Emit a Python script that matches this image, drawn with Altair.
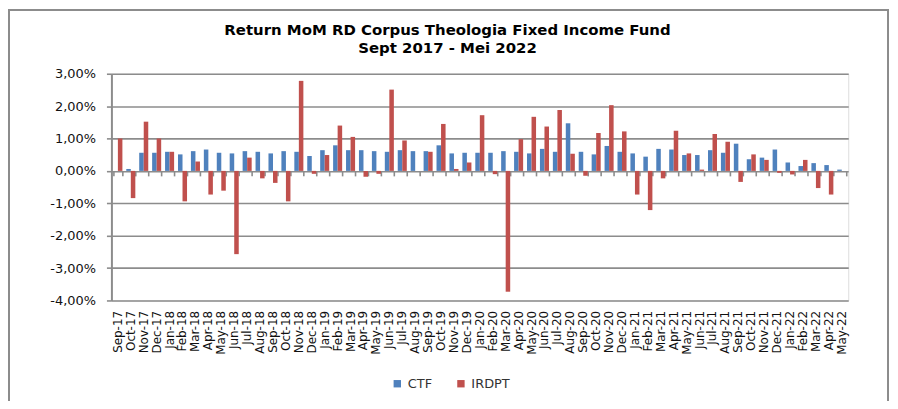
import altair as alt
import pandas as pd

months = [
    "Sep-17", "Oct-17", "Nov-17", "Dec-17",
    "Jan-18", "Feb-18", "Mar-18", "Apr-18", "May-18", "Jun-18", "Jul-18", "Aug-18", "Sep-18", "Oct-18", "Nov-18", "Dec-18",
    "Jan-19", "Feb-19", "Mar-19", "Apr-19", "May-19", "Jun-19", "Jul-19", "Aug-19", "Sep-19", "Oct-19", "Nov-19", "Dec-19",
    "Jan-20", "Feb-20", "Mar-20", "Apr-20", "May-20", "Jun-20", "Jul-20", "Aug-20", "Sep-20", "Oct-20", "Nov-20", "Dec-20",
    "Jan-21", "Feb-21", "Mar-21", "Apr-21", "May-21", "Jun-21", "Jul-21", "Aug-21", "Sep-21", "Oct-21", "Nov-21", "Dec-21",
    "Jan-22", "Feb-22", "Mar-22", "Apr-22", "May-22",
]

ctf = [
    0.00, 0.06, 0.56, 0.56,
    0.59, 0.51, 0.61, 0.66, 0.56, 0.54, 0.61, 0.59, 0.54, 0.61, 0.59, 0.46,
    0.64, 0.79, 0.64, 0.64, 0.61, 0.59, 0.64, 0.61, 0.61, 0.79, 0.54, 0.56,
    0.56, 0.56, 0.61, 0.59, 0.54, 0.68, 0.59, 1.47, 0.59, 0.51, 0.77, 0.59,
    0.54, 0.44, 0.68, 0.66, 0.49, 0.49, 0.64, 0.56, 0.84, 0.36, 0.41, 0.66,
    0.26, 0.15, 0.24, 0.18, 0.04,
]

irdpt = [
    1.00, -0.84, 1.52, 1.00,
    0.59, -0.94, 0.29, -0.73, -0.61, -2.57, 0.41, -0.23, -0.37, -0.94, 2.78, -0.09,
    0.49, 1.40, 1.05, -0.18, -0.09, 2.51, 0.94, 0.00, 0.59, 1.45, 0.06, 0.26,
    1.72, -0.10, -3.73, 0.98, 1.67, 1.37, 1.88, 0.53, -0.15, 1.17, 2.03, 1.22,
    -0.73, -1.21, -0.23, 1.24, 0.54, 0.04, 1.14, 0.90, -0.34, 0.51, 0.34, -0.06,
    -0.11, 0.34, -0.53, -0.73, 0.00,
]

series_names = ["CTF", "IRDPT"]
series_colors = ["#4F81BD", "#C0504D"]
y_ticks = [-4, -3, -2, -1, 0, 1, 2, 3]

title_lines = ["Return MoM RD Corpus Theologia Fixed Income Fund", "Sept 2017 - Mei 2022"]

df = pd.DataFrame({"month": months, "CTF": ctf, "IRDPT": irdpt})
long = df.melt(id_vars="month", var_name="series", value_name="value")

W, H = 741, 228
GRID = "#8c8c8c"
FONT = "DejaVu Sans"

xscale = alt.Scale(domain=months, paddingInner=0.3, paddingOuter=0.15)
yscale = alt.Scale(domain=[-4, 3], nice=False, zero=False)

bars = alt.Chart(long).mark_bar().encode(
    x=alt.X("month:N", sort=months, scale=xscale,
            axis=alt.Axis(title=None, labelAngle=-90, labelFontSize=12, labelFont=FONT,
                          labelColor="#111", labelOverlap=False, domain=False, ticks=False,
                          labelPadding=10, grid=False)),
    xOffset=alt.XOffset("series:N", sort=series_names, scale=alt.Scale(paddingInner=0)),
    y=alt.Y("value:Q", stack=None, scale=yscale,
            axis=alt.Axis(title=None, values=y_ticks,
                          labelExpr="replace(replace(format(datum.value, '.2f'), '.', ','), '\u2212', '-') + '%'",
                          labelFontSize=13, labelFont=FONT, labelColor="#111", labelPadding=11,
                          grid=True, gridColor=GRID, gridWidth=1.6,
                          domainColor=GRID, domainWidth=2, tickColor=GRID, tickWidth=1.6, tickSize=5)),
    color=alt.Color("series:N", scale=alt.Scale(domain=series_names, range=series_colors),
                    legend=alt.Legend(title=None, orient="none", direction="horizontal",
                                      legendX=281, legendY=305, symbolType="square",
                                      symbolSize=55, symbolStrokeWidth=0, labelFontSize=13,
                                      labelFont=FONT, labelColor="#333", columnPadding=22)),
)

zero_ticks = alt.Chart(df).mark_point(opacity=0, size=0).encode(
    x=alt.X("month:N", sort=months, scale=xscale,
            axis=alt.Axis(title=None, orient="bottom", offset=-H * 4 / 7, labels=False,
                          domain=False, ticks=True, tickBand="extent", tickSize=5,
                          tickColor=GRID, tickWidth=1.6, grid=False)),
)

frame = alt.Chart(pd.DataFrame({"a": [0]})).mark_rect(
    filled=False, stroke="#8c8c8c", strokeWidth=2
).encode(
    x=alt.value(-103), x2=alt.value(781), y=alt.value(-64), y2=alt.value(420)
)

title_df = pd.DataFrame({"line": title_lines, "idx": [0, 1]})
title1 = alt.Chart(title_df.iloc[[0]]).mark_text(
    font=FONT, fontSize=15, fontWeight="bold", color="#000", align="center", baseline="middle"
).encode(text="line:N", x=alt.value(338), y=alt.value(-44))
title2 = alt.Chart(title_df.iloc[[1]]).mark_text(
    font=FONT, fontSize=15, fontWeight="bold", color="#000", align="center", baseline="middle"
).encode(text="line:N", x=alt.value(338), y=alt.value(-26))

chart = alt.layer(frame, title1, title2, bars, zero_ticks).resolve_axis(x="independent").properties(
    width=W, height=H,
    autosize=alt.AutoSizeParams(type="none"),
    padding={"left": 104, "top": 65, "right": 42, "bottom": 100},
).configure_view(stroke=None).configure(background="white")

chart.save("out.html", embed_options={"renderer": "svg", "actions": False})
